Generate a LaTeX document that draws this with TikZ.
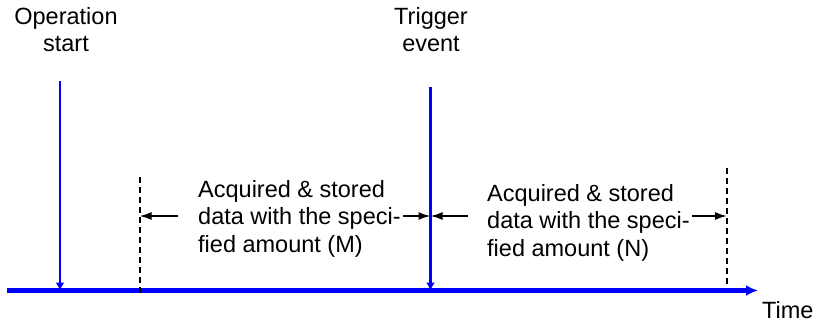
\documentclass[tikz,border=0pt]{standalone}
\usepackage{fontspec}
\setmainfont{Liberation Sans}
\usetikzlibrary{arrows.meta}
\usetikzlibrary{positioning}
\tikzstyle{eventtext} = [font=\fontsize{23.5}{27.5}\selectfont, inner sep=0pt, align=center]
\tikzstyle{amounttext} = [font=\fontsize{23.5}{27.5}\selectfont, inner sep=0pt, align=left]
\tikzstyle{eventline} = [draw,blue,line width=2.2pt,-{Latex[length=8pt,width=9pt]}]
\tikzstyle{timeline} = [draw,blue,line width=5pt,-{Latex[length=12pt,width=11pt]}]
\tikzstyle{limitline} = [draw,black,line width=2pt,dash pattern=on 6pt off 4pt]
\tikzstyle{amountarrow} = [draw,black,line width=1.8pt,-{Latex[length=12pt,width=8pt]}]

\begin{document}
\begin{tikzpicture}[x=1pt,y=-1pt]
\useasboundingbox (0,0) rectangle (823,324);

    % Time axis
    \coordinate (t0) at (7,290.5);
    \coordinate (t1) at (758,290.5);
    \path[timeline] (t0) -- (t1);
    \node[amounttext, anchor=base west] (time) at (762,318) {Time};

    % Events, with their blue arrows down to the axis
    \node[eventtext, anchor=base] (opstart) at (66,52) {Operation\\start};
    \node[eventtext, anchor=base] (trigger) at (431,52) {Trigger\\event};
    \coordinate (opline) at (60,81);
    \coordinate (trigline) at (430.5,87);
    \foreach \lname in {opline, trigline}
        \path[eventline] (\lname) -- (\lname |- t0);

    % Limits of the stored data
    \foreach \name/\x/\ya/\yb in {limM/139.5/177/296, limN/727/168/287}
    {
        \coordinate (\name) at (\x,\ya);
        \path[limitline] (\name) -- (\x,\yb);
    }

    % Amounts before and after the trigger
    \node[amounttext, anchor=base west] (amountM) at (198,252) {Acquired \& stored\\data with the speci-\\fied amount (M)};
    \node[amounttext, anchor=base west] (amountN) at (487,256) {Acquired \& stored\\data with the speci-\\fied amount (N)};

    \coordinate (mL) at (178,216);
    \coordinate (mR) at (403,216);
    \coordinate (nL) at (468,216);
    \coordinate (nR) at (692,216);
    \foreach \source/\dest in {mL/limM, mR/trigline, nL/trigline, nR/limN}
        \path[amountarrow] (\source) -- (\source -| \dest);

\end{tikzpicture}
\end{document}
